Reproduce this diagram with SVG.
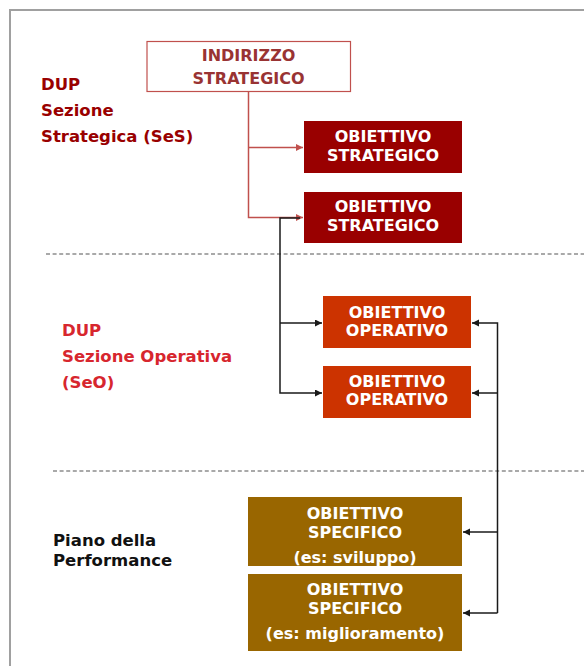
<svg xmlns="http://www.w3.org/2000/svg" width="584" height="666" viewBox="0 0 584 666">
<style>
.bt{font-family:"DejaVu Sans",Verdana,sans-serif;font-weight:bold;font-size:16px;fill:#ffffff;text-anchor:middle}
.side{font-family:"DejaVu Sans",Verdana,sans-serif;font-weight:bold;font-size:16.5px}
.red{stroke:#c0504d;stroke-width:1.5;fill:none}
.blk{stroke:#1a1a1a;stroke-width:1.5;fill:none}
.dash{stroke:#555;stroke-width:1.2;stroke-dasharray:4,2.6}
</style>
<defs>
<marker id="ar" markerWidth="8" markerHeight="8" refX="7" refY="3.5" orient="auto" markerUnits="userSpaceOnUse"><path d="M0,0 L7,3.5 L0,7 z" fill="#c0504d"/></marker>
<marker id="ab" markerWidth="8" markerHeight="8" refX="7" refY="3.5" orient="auto" markerUnits="userSpaceOnUse"><path d="M0,0 L7,3.5 L0,7 z" fill="#1a1a1a"/></marker>
</defs>
<rect x="0" y="0" width="584" height="666" fill="#ffffff"/>
<path d="M10,666 V10 H584" stroke="#a0a0a0" stroke-width="2" fill="none"/>
<g id="separators">
<line class="dash" x1="46" y1="254" x2="584" y2="254"/>
<line class="dash" x1="53" y1="471" x2="584" y2="471"/>
</g>
<g id="label-ses" class="side" fill="#990000">
<text x="41" y="90">DUP</text>
<text x="41" y="116">Sezione</text>
<text x="41" y="142">Strategica (SeS)</text>
</g>
<g id="label-seo" class="side" fill="#d7262e">
<text x="62" y="336">DUP</text>
<text x="62" y="362">Sezione Operativa</text>
<text x="62" y="388">(SeO)</text>
</g>
<g id="label-piano" class="side" fill="#111111">
<text x="53" y="546">Piano della</text>
<text x="53" y="566">Performance</text>
</g>
<g id="connectors">
<path class="red" d="M248.5,92 V217.5 H303" marker-end="url(#ar)"/>
<path class="red" d="M248.5,147.5 H303" marker-end="url(#ar)"/>
<path class="blk" d="M300,218 H280 V393 H322" marker-end="url(#ab)"/>
<path class="blk" d="M280,323 H322" marker-end="url(#ab)"/>
<path class="blk" d="M497.5,613 V323 H472" marker-end="url(#ab)"/>
<path class="blk" d="M497.5,393 H472" marker-end="url(#ab)"/>
<path class="blk" d="M497.5,532 H463" marker-end="url(#ab)"/>
<path class="blk" d="M497.5,613 H463" marker-end="url(#ab)"/>
</g>
<g id="indirizzo">
<rect x="147" y="41.5" width="203.5" height="50" fill="#ffffff" stroke="#c0504d" stroke-width="1.2"/>
<text class="bt" x="248.5" y="61" style="fill:#993333">INDIRIZZO</text>
<text class="bt" x="248.5" y="83.5" style="fill:#993333">STRATEGICO</text>
</g>
<g id="os1">
<rect x="304" y="121" width="158" height="52" fill="#990000"/>
<text class="bt" x="383" y="141.5">OBIETTIVO</text>
<text class="bt" x="383" y="160.5">STRATEGICO</text>
</g>
<g id="os2">
<rect x="304" y="192" width="158" height="51" fill="#990000"/>
<text class="bt" x="383" y="211.5">OBIETTIVO</text>
<text class="bt" x="383" y="230.5">STRATEGICO</text>
</g>
<g id="oo1">
<rect x="323" y="296" width="148" height="52" fill="#cc3300"/>
<text class="bt" x="397" y="317.5">OBIETTIVO</text>
<text class="bt" x="397" y="336">OPERATIVO</text>
</g>
<g id="oo2">
<rect x="323" y="366" width="148" height="52" fill="#cc3300"/>
<text class="bt" x="397" y="386.5">OBIETTIVO</text>
<text class="bt" x="397" y="405">OPERATIVO</text>
</g>
<g id="osp1">
<rect x="248" y="497" width="214" height="69" fill="#996600"/>
<text class="bt" x="355" y="518.5">OBIETTIVO</text>
<text class="bt" x="355" y="537.5">SPECIFICO</text>
<text class="bt" x="355" y="562.5">(es: sviluppo)</text>
</g>
<g id="osp2">
<rect x="248" y="574" width="214" height="77" fill="#996600"/>
<text class="bt" x="355" y="595">OBIETTIVO</text>
<text class="bt" x="355" y="613.5">SPECIFICO</text>
<text class="bt" x="355" y="638.5">(es: miglioramento)</text>
</g>
</svg>
